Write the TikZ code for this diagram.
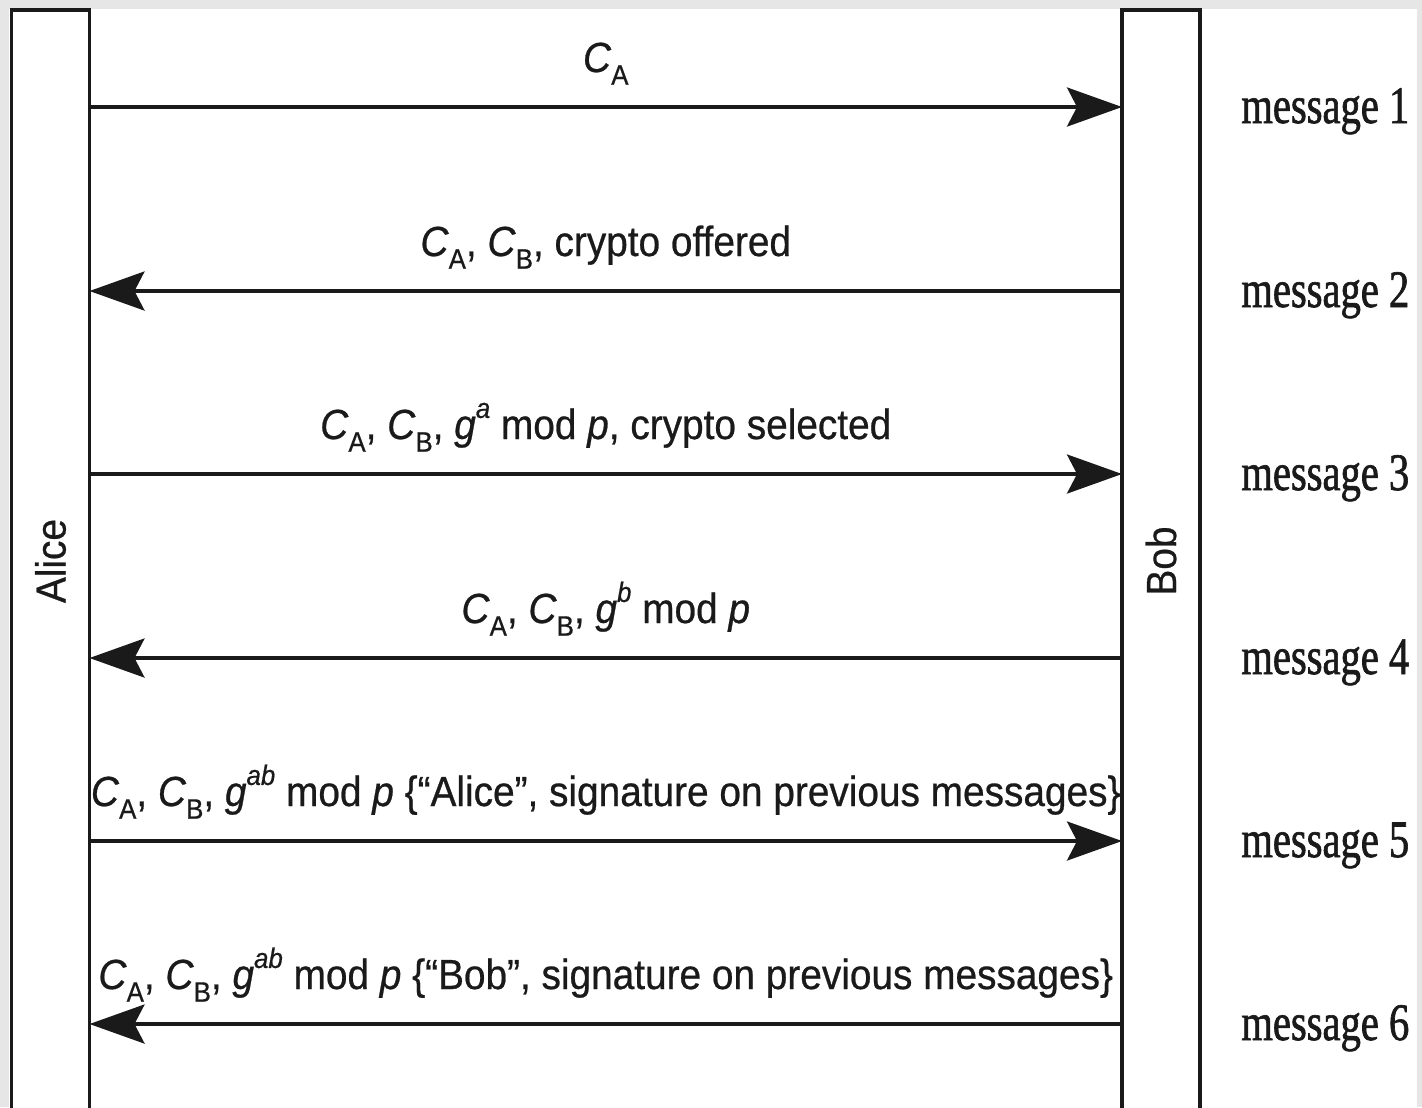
\documentclass[tikz,border=0pt]{standalone}
\usepackage{fontspec}
\setmainfont{Liberation Sans}[FakeStretch=0.92, FakeBold=0.6]
\newfontfamily\msgfont{Liberation Serif}[FakeStretch=0.77, FakeBold=1.2]
\usetikzlibrary{arrows.meta,positioning}
\definecolor{frameG}{HTML}{E6E6E6}
\definecolor{inkK}{HTML}{1A1A1A}
\newcommand\lblsize{\fontsize{24}{28}\selectfont}
\newcommand\idxsize{\fontsize{16}{16}\selectfont}
\newcommand\keyC[1]{\textit{C}\raisebox{-0.3em}{\idxsize #1}}
\newcommand\powg[1]{\textit{g}\raisebox{0.5em}{\idxsize\textit{#1}}}
\tikzset{
  lifeline/.style={rectangle, draw=inkK, line width=2pt, fill=white, inner sep=0pt,
                   outer sep=0pt, rotate=90, minimum width=22.04cm, minimum height=1.56cm,
                   font=\lblsize, text=inkK},
  msgto/.style={-{Stealth[length=1.1cm, width=0.78cm, inset=0.2cm]}, line width=2.1pt, draw=inkK},
  lbl/.style={anchor=base, yshift=0.7cm, inner sep=0pt, font=\lblsize, text=inkK},
  msgno/.style={anchor=base west, inner sep=0pt, font=\msgfont\fontsize{30}{34}\selectfont, text=inkK},
}

\begin{document}
\begin{tikzpicture}[x=0.02cm, y=-0.02cm]
\fill[frameG] (0,0) rectangle (1422,1107);
\fill[white] (9,9) rectangle (1417,1107);
\useasboundingbox (0,0) rectangle (1422,1107);
% the two parties
\node[lifeline] (alice) at (50.5,561) {Alice};
\node[lifeline] (bob) at (1161,561) {Bob};
% message rows
\coordinate (r1) at (0,107);
\coordinate (r2) at (0,291);
\coordinate (r3) at (0,474);
\coordinate (r4) at (0,658);
\coordinate (r5) at (0,841);
\coordinate (r6) at (0,1024);
\draw[msgto] (alice.south |- r1) -- (bob.north |- r1) node[lbl, midway] (t1) {\keyC{A}};
\draw[msgto] (bob.north |- r2) -- (alice.south |- r2) node[lbl, midway] (t2) {\keyC{A}, \keyC{B}, crypto offered};
\draw[msgto] (alice.south |- r3) -- (bob.north |- r3) node[lbl, midway] (t3) {\keyC{A}, \keyC{B}, \powg{a} mod \textit{p}, crypto selected};
\draw[msgto] (bob.north |- r4) -- (alice.south |- r4) node[lbl, midway] (t4) {\keyC{A}, \keyC{B}, \powg{b} mod \textit{p}};
\draw[msgto] (alice.south |- r5) -- (bob.north |- r5) node[lbl, midway] (t5) {\keyC{A}, \keyC{B}, \powg{ab} mod \textit{p} \{“Alice”, signature on previous messages\}};
\draw[msgto] (bob.north |- r6) -- (alice.south |- r6) node[lbl, midway] (t6) {\keyC{A}, \keyC{B}, \powg{ab} mod \textit{p} \{“Bob”, signature on previous messages\}};
% message numbers
\node[msgno] (n1) at (1241,123) {message 1};
\node[msgno] (n2) at (1241,307) {message 2};
\node[msgno] (n3) at (1241,490) {message 3};
\node[msgno] (n4) at (1241,674) {message 4};
\node[msgno] (n5) at (1241,857) {message 5};
\node[msgno] (n6) at (1241,1040) {message 6};
\end{tikzpicture}
\end{document}
